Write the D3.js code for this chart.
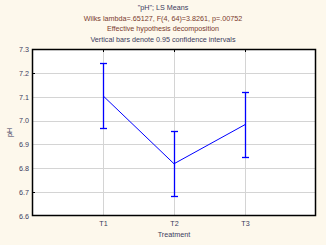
<!DOCTYPE html>
<html>
<head>
<meta charset="utf-8">
<script src="https://cdn.jsdelivr.net/npm/d3@7"></script>
<style>
  html, body { margin: 0; padding: 0; background: #fdf8ec; }
  svg { display: block; font-family: "Liberation Sans", Arial, sans-serif; }
</style>
</head>
<body>
<div id="chart"></div>
<script>
// chart data
const categories = ['T1', 'T2', 'T3'];
const means = [7.104, 6.819, 6.983];
const upper = [7.240, 6.955, 7.118];
const lower = [6.968, 6.684, 6.846];
const yTicks = [6.6, 6.7, 6.8, 6.9, 7.0, 7.1, 7.2, 7.3];
const titleLines = [
  '"pH"; LS Means',
  'Wilks lambda=.65127, F(4, 64)=3.8261, p=.00752',
  'Effective hypothesis decomposition',
  'Vertical bars denote 0.95 confidence intervals'
];
const titleColors = ['#3b3b5c', '#7a3a2c', '#7a3a2c', '#3b3b5c'];

const width = 326, height = 245;
const margin = { top: 49, right: 10, bottom: 29, left: 32 };
const textColor = '#3b3b5c';

const svg = d3.select('#chart').append('svg')
  .attr('width', width)
  .attr('height', height);

svg.append('rect')
  .attr('width', width).attr('height', height)
  .attr('fill', '#fdf8ec');

const x = d3.scaleLinear()
  .domain([0, categories.length + 1])
  .range([margin.left, width - margin.right]);

const y = d3.scaleLinear()
  .domain([6.6, 7.3])
  .range([height - margin.bottom, margin.top]);

// plot background
svg.append('rect')
  .attr('x', x(0)).attr('y', y(7.3))
  .attr('width', x(categories.length + 1) - x(0))
  .attr('height', y(6.6) - y(7.3))
  .attr('fill', '#ffffff');

// grid
svg.append('g')
  .selectAll('line.h')
  .data(yTicks.slice(1, -1))
  .join('line')
  .attr('x1', x(0)).attr('x2', x(categories.length + 1))
  .attr('y1', d => Math.round(y(d)) + 0.5).attr('y2', d => Math.round(y(d)) + 0.5)
  .attr('stroke', '#d4d4d4');

svg.append('g')
  .selectAll('line.v')
  .data(categories)
  .join('line')
  .attr('x1', (d, i) => Math.round(x(i + 1)) + 0.5)
  .attr('x2', (d, i) => Math.round(x(i + 1)) + 0.5)
  .attr('y1', y(7.3)).attr('y2', y(6.6))
  .attr('stroke', '#d4d4d4');

// axes
const yAxis = svg.append('g')
  .attr('transform', `translate(${x(0)},0)`)
  .call(d3.axisLeft(y).tickValues(yTicks).tickFormat(d3.format('.1f')).tickSize(0).tickPadding(3));
yAxis.select('.domain').remove();
yAxis.selectAll('text')
  .attr('fill', textColor)
  .style('font-size', '7.2px');

const xAxis = svg.append('g')
  .attr('transform', `translate(0,${y(6.6)})`)
  .call(d3.axisBottom(x).tickValues([1, 2, 3]).tickFormat(d => categories[d - 1]).tickSize(0).tickPadding(5));
xAxis.select('.domain').remove();
xAxis.selectAll('text')
  .attr('fill', textColor)
  .style('font-size', '7.2px');

// frame
svg.append('rect')
  .attr('x', x(0) + 0.5).attr('y', y(7.3) + 0.5)
  .attr('width', x(categories.length + 1) - x(0) - 1)
  .attr('height', y(6.6) - y(7.3) - 1)
  .attr('fill', 'none')
  .attr('stroke', '#000')
  .attr('stroke-width', 1.5);

// small ticks on top frame and left frame
svg.append('g')
  .selectAll('line')
  .data([1, 2, 3])
  .join('line')
  .attr('x1', d => Math.round(x(d)) + 0.5).attr('x2', d => Math.round(x(d)) + 0.5)
  .attr('y1', y(7.3)).attr('y2', y(7.3) + 3)
  .attr('stroke', '#000');

svg.append('g')
  .selectAll('line')
  .data([7.2, 6.7])
  .join('line')
  .attr('x1', x(0)).attr('x2', x(0) + 3)
  .attr('y1', d => Math.round(y(d)) + 0.5).attr('y2', d => Math.round(y(d)) + 0.5)
  .attr('stroke', '#000');

// axis titles
svg.append('text')
  .attr('x', (x(0) + x(categories.length + 1)) / 2)
  .attr('y', height - 8)
  .attr('text-anchor', 'middle')
  .attr('fill', textColor)
  .style('font-size', '7.2px')
  .text('Treatment');

svg.append('text')
  .attr('transform', `translate(12,${(y(6.6) + y(7.3)) / 2}) rotate(-90)`)
  .attr('text-anchor', 'middle')
  .attr('fill', textColor)
  .style('font-size', '7.2px')
  .text('pH');

// title
svg.append('g')
  .selectAll('text')
  .data(titleLines)
  .join('text')
  .attr('x', 163)
  .attr('y', (d, i) => 10 + i * 10.5)
  .attr('text-anchor', 'middle')
  .attr('fill', (d, i) => titleColors[i])
  .style('font-size', '7.2px')
  .text(d => d);

// line of means
const line = d3.line()
  .x((d, i) => x(i + 1))
  .y(d => y(d));

svg.append('path')
  .datum(means)
  .attr('d', line)
  .attr('fill', 'none')
  .attr('stroke', '#0000ff')
  .attr('stroke-width', 1);

// error bars
const bars = svg.append('g')
  .selectAll('g')
  .data(categories)
  .join('g');

bars.append('line')
  .attr('x1', (d, i) => Math.round(x(i + 1)) + 0.5)
  .attr('x2', (d, i) => Math.round(x(i + 1)) + 0.5)
  .attr('y1', (d, i) => y(upper[i]))
  .attr('y2', (d, i) => y(lower[i]))
  .attr('stroke', '#0000ff')
  .attr('stroke-width', 1.3);

bars.append('line')
  .attr('x1', (d, i) => x(i + 1) - 3)
  .attr('x2', (d, i) => x(i + 1) + 4)
  .attr('y1', (d, i) => Math.round(y(upper[i])) + 0.5)
  .attr('y2', (d, i) => Math.round(y(upper[i])) + 0.5)
  .attr('stroke', '#0000ff')
  .attr('stroke-width', 1.3);

bars.append('line')
  .attr('x1', (d, i) => x(i + 1) - 3)
  .attr('x2', (d, i) => x(i + 1) + 4)
  .attr('y1', (d, i) => Math.round(y(lower[i])) + 0.5)
  .attr('y2', (d, i) => Math.round(y(lower[i])) + 0.5)
  .attr('stroke', '#0000ff')
  .attr('stroke-width', 1.3);
</script>
</body>
</html>
